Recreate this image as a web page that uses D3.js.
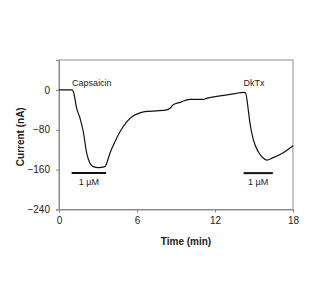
<!DOCTYPE html>
<html>
<head>
<meta charset="utf-8">
<script src="https://cdn.jsdelivr.net/npm/d3@7"></script>
<style>
  body { margin: 0; background: #fff; }
  text { font-family: "Liberation Sans", Arial, sans-serif; }
</style>
</head>
<body>
<div id="chart"></div>
<script>
// Data: current trace (time in min, current in nA)
const times = [0, 1.0, 1.1, 1.36, 1.62, 1.87, 2.13, 2.38, 2.64, 3.02, 3.54, 3.67, 3.92, 4.18, 4.69, 5.21,
  5.72, 6.23, 6.75, 7.52, 8.28, 8.54, 8.79, 9.31, 10.08, 11.1, 11.36, 12.38, 13.41, 14.18, 14.35,
  14.56, 14.69, 14.95, 15.33, 15.72, 15.98, 16.48, 17.25, 18];
const currents = [0, 0, -3, -37, -57, -84, -127, -147, -154, -156, -154, -147, -127, -111, -84, -64,
  -52, -46, -43, -42, -40, -37, -30, -25, -19, -19, -17, -12, -8, -5, -6,
  -40, -67, -100, -124, -137, -141, -136, -126, -112];

// Drug applications
const drugNames = ["Capsaicin", "DkTx"];
const drugStart = [0.97, 14.2];
const drugEnd = [3.62, 16.45];
const drugDose = ["1 µM", "1 µM"];

const xTicks = [0, 6, 12, 18];
const yTicks = [0, -80, -160, -240];

const width = 332, height = 284;
const margin = { left: 59, right: 39, top: 60, bottom: 74.5 };

const svg = d3.select("#chart").append("svg")
    .attr("width", width)
    .attr("height", height);

const x = d3.scaleLinear().domain([0, 18]).range([margin.left, width - margin.right]);
const y = d3.scaleLinear().domain([-240, 60]).range([height - margin.bottom, margin.top]);

// Frame
svg.append("rect")
    .attr("x", x(0))
    .attr("y", y(60))
    .attr("width", x(18) - x(0))
    .attr("height", y(-240) - y(60))
    .attr("fill", "none")
    .attr("stroke", "#8c8c8c")
    .attr("stroke-width", 1);

// Axes
const xAxis = svg.append("g")
    .attr("transform", `translate(0,${y(-240)})`)
    .call(d3.axisBottom(x).tickValues(xTicks).tickSize(3).tickPadding(4));
const yAxis = svg.append("g")
    .attr("transform", `translate(${x(0)},0)`)
    .call(d3.axisLeft(y).tickValues(yTicks).tickSize(3).tickPadding(6));

[xAxis, yAxis].forEach(g => {
  g.select(".domain").attr("stroke", "#8c8c8c");
  g.selectAll(".tick line").attr("stroke", "#8c8c8c");
  g.selectAll(".tick text")
      .attr("fill", "#222")
      .style("font-size", "10px")
      .style("font-family", "'Liberation Sans', Arial, sans-serif");
});

// Trace
const line = d3.line()
    .x((d, i) => x(times[i]))
    .y(d => y(d))
    .curve(d3.curveMonotoneX);

svg.append("path")
    .datum(currents)
    .attr("d", line)
    .attr("fill", "none")
    .attr("stroke", "#111")
    .attr("stroke-width", 1.2);

// Drug bars and labels
drugNames.forEach((name, i) => {
  svg.append("line")
      .attr("x1", x(drugStart[i]))
      .attr("x2", x(drugEnd[i]))
      .attr("y1", y(-167))
      .attr("y2", y(-167))
      .attr("stroke", "#111")
      .attr("stroke-width", 2);
  svg.append("text")
      .attr("x", (x(drugStart[i]) + x(drugEnd[i])) / 2)
      .attr("y", y(-167) + 12)
      .attr("text-anchor", "middle")
      .style("font-size", "9px")
      .attr("fill", "#222")
      .text(drugDose[i]);
  svg.append("text")
      .attr("x", x(drugStart[i]) + (i === 0 ? 0.5 : 0))
      .attr("y", 86)
      .style("font-size", "9px")
      .attr("fill", "#222")
      .text(name);
});

// Axis titles
svg.append("text")
    .attr("x", 186)
    .attr("y", 245)
    .attr("text-anchor", "middle")
    .style("font-size", "10px")
    .style("font-weight", "bold")
    .attr("fill", "#222")
    .text("Time (min)");

svg.append("text")
    .attr("transform", `translate(24,${(y(60) + y(-240)) / 2 + 2}) rotate(-90)`)
    .attr("text-anchor", "middle")
    .style("font-size", "10px")
    .style("font-weight", "bold")
    .attr("fill", "#222")
    .text("Current (nA)");
</script>
</body>
</html>
